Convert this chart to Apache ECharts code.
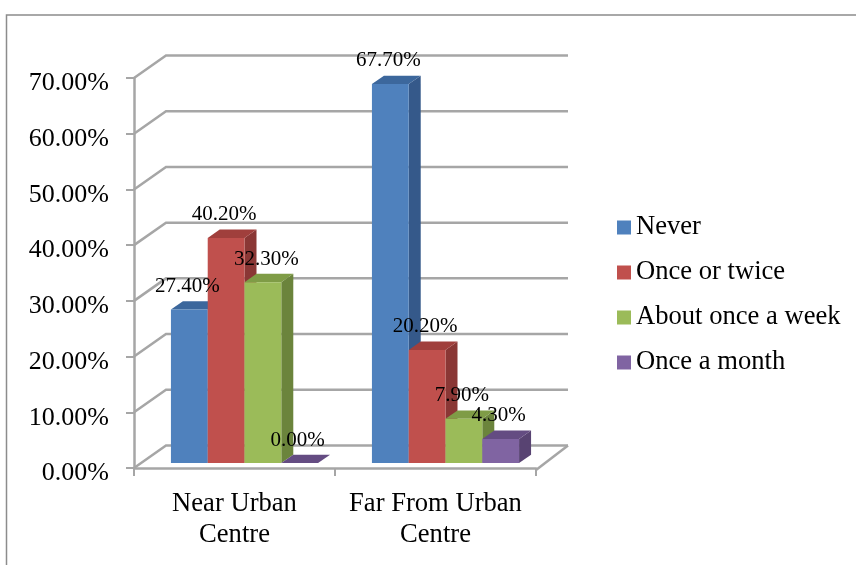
<!DOCTYPE html>
<html>
<head>
<meta charset="utf-8">
<style>html,body{margin:0;padding:0;background:#fff}#chart{width:856px;height:565px}</style>
<script src="https://cdn.jsdelivr.net/npm/echarts@6/dist/echarts.min.js"></script>
</head>
<body>
<div id="chart"></div>
<script>
// Frequency by location
const categories = ['Near Urban\nCentre', 'Far From Urban\nCentre'];
const never = [27.4, 67.7];
const onceOrTwice = [40.2, 20.2];
const aboutOnceAWeek = [32.3, 7.9];
const onceAMonth = [0, 4.3];
const yTicks = [0, 10, 20, 30, 40, 50, 60, 70];

const seriesDefs = [
  { name: 'Never', values: never, front: '#4f81bd', top: '#3c679c', side: '#35598a' },
  { name: 'Once or twice', values: onceOrTwice, front: '#c0504d', top: '#a03f3c', side: '#8a3735' },
  { name: 'About once a week', values: aboutOnceAWeek, front: '#9bbb59', top: '#7f9c46', side: '#6b843c' },
  { name: 'Once a month', values: onceAMonth, front: '#8064a2', top: '#644c82', side: '#584372' }
];

// Pseudo-3D projection offsets, in pixels
const WALL_DX = 32, WALL_DY = -22.5;  // front floor edge to back wall
const BAR_DX = 10, BAR_DY = -5;       // front floor edge to bar front face
const DEPTH_DX = 12, DEPTH_DY = -8.3; // bar front face to bar back face
const BAR_FRACTION = 0.183;           // bar width as a share of the category band
const BAR_PERSPECTIVE = 1.005;        // bars stand deeper in the box, so their scale differs slightly
const LABEL_RISE = 23;
const AXIS_GREY = '#a6a6a6';
const AXIS_WIDTH = 2.5;
const FONT = '"Liberation Serif", "Times New Roman", serif';

function barFrame(api, seriesIndex) {
  const bottom = api.coord([api.value(0), 0]);
  const top = api.coord([api.value(0), api.value(1)]);
  const w = api.size([1, 0])[0] * BAR_FRACTION;
  const x0 = bottom[0] + BAR_DX + (seriesIndex - 2) * w;
  const yBase = bottom[1] + BAR_DY;
  return { x0, x1: x0 + w, w, yBase, yTop: yBase - (bottom[1] - top[1]) * BAR_PERSPECTIVE };
}

// Slanted side-wall segment and back-wall gridline for one y tick
function renderWallLine(params, api) {
  const cs = params.coordSys;
  const p = api.coord([0, api.value(0)]);
  const y = p[1];
  const style = { stroke: AXIS_GREY, lineWidth: AXIS_WIDTH, fill: null };
  return {
    type: 'polyline',
    silent: true,
    shape: { points: [[cs.x, y], [cs.x + WALL_DX, y + WALL_DY], [cs.x + cs.width + WALL_DX, y + WALL_DY]] },
    style
  };
}

// Right edge of the floor, joining the front edge to the back wall
function renderFloorEdge(params, api) {
  const cs = params.coordSys;
  const y = api.coord([0, 0])[1];
  return {
    type: 'line',
    silent: true,
    shape: { x1: cs.x + cs.width, y1: y + 2, x2: cs.x + cs.width + WALL_DX, y2: y + WALL_DY },
    style: { stroke: AXIS_GREY, lineWidth: AXIS_WIDTH }
  };
}

function makeBarRenderer(def, seriesIndex) {
  return function (params, api) {
    const f = barFrame(api, seriesIndex);
    const dx = DEPTH_DX, dy = DEPTH_DY;
    return {
      type: 'group',
      children: [
        {
          type: 'polygon', silent: true,
          shape: { points: [[f.x1, f.yBase], [f.x1 + dx, f.yBase + dy], [f.x1 + dx, f.yTop + dy], [f.x1, f.yTop]] },
          style: { fill: def.side }
        },
        {
          type: 'polygon', silent: true,
          shape: { points: [[f.x0, f.yTop], [f.x0 + dx, f.yTop + dy], [f.x1 + dx, f.yTop + dy], [f.x1, f.yTop]] },
          style: { fill: def.top }
        },
        {
          type: 'rect', silent: true,
          shape: { x: f.x0, y: f.yTop, width: f.w, height: f.yBase - f.yTop },
          style: { fill: def.front }
        }
      ]
    };
  };
}

function renderValueLabel(params, api) {
  const seriesIndex = api.value(2);
  const f = barFrame(api, seriesIndex);
  // The 32.30% label sits a little right of the others
  const nudge = api.value(0) === 0 && seriesIndex === 2 ? 3.5 : -2;
  return {
    type: 'text',
    silent: true,
    style: {
      x: (f.x0 + f.x1) / 2 + nudge,
      y: f.yTop - LABEL_RISE,
      text: api.value(1).toFixed(2) + '%',
      fill: '#000',
      font: '21px ' + FONT,
      align: 'center',
      verticalAlign: 'middle'
    }
  };
}

const labelData = [];
seriesDefs.forEach((def, s) => def.values.forEach((v, c) => labelData.push([c, v, s])));

const chart = echarts.init(document.getElementById('chart'), null, { renderer: 'canvas' });
chart.setOption({
  animation: false,
  backgroundColor: '#fff',
  textStyle: { fontFamily: FONT },
  graphic: [{
    type: 'polyline',
    silent: true,
    shape: { points: [[6.5, 565], [6.5, 15], [856, 15]] },
    style: { stroke: '#8c8c8c', lineWidth: 1.5, fill: null }
  }],
  legend: {
    orient: 'vertical',
    left: 617,
    top: 212.5,
    padding: 0,
    itemWidth: 14,
    itemHeight: 14,
    itemGap: 15,
    selectedMode: false,
    data: seriesDefs.map(d => ({ name: d.name, icon: 'rect' })),
    textStyle: { fontFamily: FONT, fontSize: 26.6, lineHeight: 30, color: '#000' }
  },
  grid: { left: 134, top: 78, width: 402, height: 390 },
  xAxis: {
    type: 'category',
    data: categories,
    offset: 2,
    axisLine: { lineStyle: { color: AXIS_GREY, width: AXIS_WIDTH } },
    axisTick: { show: true, length: 8, lineStyle: { color: AXIS_GREY, width: 2 } },
    axisLabel: { fontFamily: FONT, fontSize: 26.6, lineHeight: 31, color: '#000', margin: 19, interval: 0 }
  },
  yAxis: {
    type: 'value',
    min: 0,
    max: 70,
    interval: 10,
    splitLine: { show: false },
    axisLine: { show: true, lineStyle: { color: AXIS_GREY, width: AXIS_WIDTH } },
    axisTick: { show: true, length: 8, lineStyle: { color: AXIS_GREY, width: 2 } },
    axisLabel: {
      fontFamily: FONT, fontSize: 26, color: '#000', margin: 25,
      verticalAlign: 'top', lineHeight: 11,
      formatter: v => v.toFixed(2) + '%'
    }
  },
  series: [
    {
      type: 'custom', name: 'walls', coordinateSystem: 'cartesian2d', clip: false, z: 1,
      data: yTicks.map(v => [v]), encode: { y: 0 }, renderItem: renderWallLine
    },
    {
      type: 'custom', name: 'floor', coordinateSystem: 'cartesian2d', clip: false, z: 1,
      data: [[0]], encode: { y: 0 }, renderItem: renderFloorEdge
    },
    ...seriesDefs.map((def, s) => ({
      type: 'custom',
      name: def.name,
      coordinateSystem: 'cartesian2d',
      clip: false,
      z: 2 + s,
      itemStyle: { color: def.front },
      encode: { x: 0, y: 1 },
      data: def.values.map((v, c) => [c, v]),
      renderItem: makeBarRenderer(def, s)
    })),
    {
      type: 'custom', name: 'values', coordinateSystem: 'cartesian2d', clip: false, z: 10,
      encode: { x: 0, y: 1 }, data: labelData, renderItem: renderValueLabel
    }
  ]
});
</script>
</body>
</html>
